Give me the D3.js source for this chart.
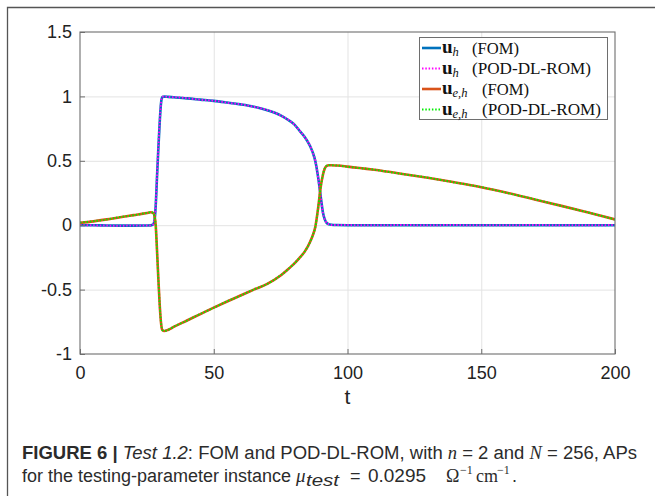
<!DOCTYPE html>
<html>
<head>
<meta charset="utf-8">
<script src="https://cdn.jsdelivr.net/npm/d3@7"></script>
<style>
  body { margin: 0; background: #fff; }
  svg { display: block; }
</style>
</head>
<body>
<svg id="chart" width="655" height="496"></svg>
<script>
// Time samples shared by all series
const timeSteps = [0, 5, 10, 15, 20, 25, 26.5, 27.3, 27.8, 28.3, 28.8,
  29.3, 29.8, 30.3, 30.8, 31.5, 33, 35, 40, 45, 50,
  55, 60, 65, 70, 75, 78, 80, 82, 84, 86,
  87, 88, 89, 90, 90.8, 91.5, 92.2, 93, 94, 96,
  100, 110, 120, 130, 140, 150, 160, 170, 180, 190, 200];

// u_h, full-order model
const uhFOM = [0, 0, -0.002, -0.003, -0.003, -0.002, -0.001, 0.005, 0.03, 0.15, 0.38,
  0.6, 0.8, 0.95, 0.995, 0.998, 0.996, 0.993, 0.985, 0.975, 0.965,
  0.952, 0.938, 0.92, 0.893, 0.853, 0.815, 0.785, 0.735, 0.685, 0.615,
  0.565, 0.495, 0.375, 0.22, 0.1, 0.045, 0.018, 0.007, 0.003, 0.001,
  0, 0, 0, 0, 0, 0, 0, 0, 0, 0, 0];

// u_h, POD-DL-ROM
const uhROM = [0.001, -0.001, -0.003, -0.004, -0.002, -0.003, -0.002, 0.006, 0.032, 0.155, 0.385,
  0.605, 0.802, 0.952, 0.996, 0.999, 0.995, 0.994, 0.986, 0.974, 0.966,
  0.951, 0.939, 0.919, 0.894, 0.852, 0.816, 0.784, 0.736, 0.684, 0.616,
  0.564, 0.496, 0.372, 0.218, 0.098, 0.046, 0.017, 0.008, 0.002, 0.002,
  0.001, -0.001, 0.001, 0, 0.001, -0.001, 0, 0.001, 0, 0, 0.001];

// u_e,h, full-order model
const uehFOM = [0.018, 0.03, 0.045, 0.062, 0.078, 0.094, 0.1, 0.096, 0.075, 0.0, -0.2,
  -0.42, -0.62, -0.76, -0.815, -0.822, -0.812, -0.79, -0.74, -0.69, -0.64,
  -0.592, -0.546, -0.5, -0.455, -0.39, -0.338, -0.3, -0.255, -0.205, -0.13,
  -0.08, -0.01, 0.13, 0.3, 0.39, 0.44, 0.46, 0.466, 0.466, 0.463,
  0.455, 0.43, 0.4, 0.368, 0.333, 0.295, 0.25, 0.2, 0.15, 0.098, 0.045];

// u_e,h, POD-DL-ROM
const uehROM = [0.02, 0.031, 0.044, 0.063, 0.077, 0.095, 0.101, 0.095, 0.074, -0.002, -0.202,
  -0.418, -0.618, -0.758, -0.813, -0.82, -0.813, -0.789, -0.741, -0.689, -0.641,
  -0.591, -0.547, -0.499, -0.456, -0.389, -0.339, -0.299, -0.256, -0.204, -0.131,
  -0.079, -0.012, 0.128, 0.298, 0.391, 0.441, 0.461, 0.467, 0.465, 0.464,
  0.454, 0.431, 0.399, 0.369, 0.332, 0.296, 0.249, 0.201, 0.149, 0.099, 0.044];

const xTicks = [0, 50, 100, 150, 200];
const yTicks = [-1, -0.5, 0, 0.5, 1, 1.5];
const yTickLabels = ["-1", "-0.5", "0", "0.5", "1", "1.5"];

const seriesStyles = [
  { key: "uhFOM", values: uhFOM, color: "#0072BD", width: 2.6, dash: null, sub: "h", tag: "(FOM)" },
  { key: "uhROM", values: uhROM, color: "#ff00ff", width: 2.0, dash: "1.5,1.8", sub: "h", tag: "(POD-DL-ROM)" },
  { key: "uehFOM", values: uehFOM, color: "#D95319", width: 2.6, dash: null, sub: "e,h", tag: "(FOM)" },
  { key: "uehROM", values: uehROM, color: "#00ee00", width: 2.0, dash: "1.5,1.8", sub: "e,h", tag: "(POD-DL-ROM)" }
];

const svg = d3.select("#chart");

// Outer figure frame (top and left edges)
svg.append("path")
  .attr("d", "M7.5,496 V7.5 H655")
  .attr("fill", "none")
  .attr("stroke", "#555")
  .attr("stroke-width", 1.3);

const plot = { left: 80, right: 615, top: 32, bottom: 354 };

const x = d3.scaleLinear().domain([0, 200]).range([plot.left, plot.right]);
const y = d3.scaleLinear().domain([-1, 1.5]).range([plot.bottom, plot.top]);

// Grid lines
const grid = svg.append("g").attr("class", "grid");
grid.append("g")
  .attr("transform", `translate(0,${plot.bottom})`)
  .call(d3.axisBottom(x).tickValues(xTicks.slice(1, -1)).tickSize(-(plot.bottom - plot.top)).tickFormat(""))
  .call(g => g.select(".domain").remove())
  .call(g => g.selectAll("line").attr("stroke", "#e3e3e3").attr("stroke-width", 1));
grid.append("g")
  .attr("transform", `translate(${plot.left},0)`)
  .call(d3.axisLeft(y).tickValues(yTicks.slice(1, -1)).tickSize(-(plot.right - plot.left)).tickFormat(""))
  .call(g => g.select(".domain").remove())
  .call(g => g.selectAll("line").attr("stroke", "#e3e3e3").attr("stroke-width", 1));

// Curves
const line = d3.line()
  .x((d, i) => x(timeSteps[i]))
  .y(d => y(d))
  .curve(d3.curveMonotoneX);

svg.append("clipPath").attr("id", "plotClip")
  .append("rect")
  .attr("x", plot.left).attr("y", plot.top)
  .attr("width", plot.right - plot.left).attr("height", plot.bottom - plot.top);
const curves = svg.append("g").attr("clip-path", "url(#plotClip)");

seriesStyles.forEach(s => {
  curves.append("path")
    .datum(s.values)
    .attr("d", line)
    .attr("fill", "none")
    .attr("stroke", s.color)
    .attr("stroke-width", s.width)
    .attr("stroke-dasharray", s.dash)
    .attr("stroke-linejoin", "round");
});

// Axis box
svg.append("rect")
  .attr("x", plot.left).attr("y", plot.top)
  .attr("width", plot.right - plot.left).attr("height", plot.bottom - plot.top)
  .attr("fill", "none")
  .attr("stroke", "#6e6e6e")
  .attr("stroke-width", 1.1);

// Axes with inward ticks
const tickFont = "'Liberation Sans', Arial, Helvetica, sans-serif";
const xAxis = svg.append("g")
  .attr("transform", `translate(0,${plot.bottom})`)
  .call(d3.axisBottom(x).tickValues(xTicks).tickSizeInner(-5).tickSizeOuter(0).tickPadding(12));
xAxis.select(".domain").remove();
xAxis.selectAll("line").attr("stroke", "#6e6e6e");
xAxis.selectAll("text")
  .attr("font-family", tickFont).attr("font-size", 18).attr("fill", "#222");

const yAxis = svg.append("g")
  .attr("transform", `translate(${plot.left},0)`)
  .call(d3.axisLeft(y).tickValues(yTicks).tickSizeInner(-5).tickSizeOuter(0).tickPadding(8)
    .tickFormat((d, i) => yTickLabels[i]));
yAxis.select(".domain").remove();
yAxis.selectAll("line").attr("stroke", "#6e6e6e");
yAxis.selectAll("text")
  .attr("font-family", tickFont).attr("font-size", 18).attr("fill", "#222");

// x-axis title
svg.append("text")
  .attr("x", (plot.left + plot.right) / 2)
  .attr("y", 404)
  .attr("text-anchor", "middle")
  .attr("font-family", tickFont)
  .attr("font-size", 21)
  .attr("fill", "#222")
  .text("t");

// Legend
const serif = "'Liberation Serif', 'Times New Roman', serif";
const legend = svg.append("g");
legend.append("rect")
  .attr("x", 419.5).attr("y", 37.5)
  .attr("width", 188).attr("height", 82)
  .attr("fill", "#fff")
  .attr("stroke", "#6e6e6e")
  .attr("stroke-width", 1);

seriesStyles.forEach((s, i) => {
  const cy = 48 + i * 20.5;
  const wide = s.sub.length > 1;
  legend.append("line")
    .attr("x1", 422).attr("x2", 441)
    .attr("y1", cy).attr("y2", cy)
    .attr("stroke", s.color)
    .attr("stroke-width", s.width)
    .attr("stroke-dasharray", s.dash);
  legend.append("text")
    .attr("x", 442).attr("y", cy + 5)
    .attr("font-family", serif).attr("font-size", 19).attr("font-weight", "bold")
    .attr("fill", "#111")
    .text("u");
  legend.append("text")
    .attr("x", 452.5).attr("y", cy + 8)
    .attr("font-family", serif).attr("font-size", 12.5).attr("font-style", "italic")
    .attr("fill", "#111")
    .text(s.sub);
  legend.append("text")
    .attr("x", wide ? 482 : 472).attr("y", cy + 5.5)
    .attr("font-family", serif).attr("font-size", 17.5)
    .attr("fill", "#111")
    .attr("textLength", s.tag === "(FOM)" ? 47 : 119)
    .attr("lengthAdjust", "spacingAndGlyphs")
    .text(s.tag);
});

// Caption
const capFont = "'Liberation Sans', Arial, Helvetica, sans-serif";
const capColor = "#2b2b2b";
const cap1 = svg.append("text")
  .attr("x", 22).attr("y", 459)
  .attr("font-family", capFont).attr("font-size", 18).attr("fill", capColor)
  .attr("textLength", 615).attr("lengthAdjust", "spacingAndGlyphs");
cap1.append("tspan").attr("font-weight", "bold").text("FIGURE 6 | ");
cap1.append("tspan").attr("font-style", "italic").text("Test 1.2");
cap1.append("tspan").text(": FOM and POD-DL-ROM, with ");
cap1.append("tspan").attr("font-style", "italic").attr("font-family", serif).text("n");
cap1.append("tspan").text(" = 2 and ");
cap1.append("tspan").attr("font-style", "italic").attr("font-family", serif).text("N");
cap1.append("tspan").text(" = 256, APs");

// Second caption line: text run followed by typeset math pieces
const cap2 = svg.append("g").attr("fill", capColor);
const capPiece = (px, py, str, opts) => {
  const t = cap2.append("text")
    .attr("x", px).attr("y", py)
    .attr("font-family", opts.family || capFont)
    .attr("font-size", opts.size || 18)
    .text(str);
  if (opts.italic) t.attr("font-style", "italic");
  if (opts.len) t.attr("textLength", opts.len).attr("lengthAdjust", "spacingAndGlyphs");
  return t;
};
capPiece(22, 482, "for the testing-parameter instance", { len: 269 });
capPiece(296, 482, "μ", { family: serif, italic: true, size: 19 });
capPiece(306, 486, "test", { italic: true, size: 17, len: 33 });
capPiece(350, 482, "=", { size: 18 });
capPiece(368, 482, "0.0295", { size: 18, len: 58 });
capPiece(446, 482, "Ω", { family: serif, size: 18 });
capPiece(460, 474, "−1", { family: serif, size: 12 });
capPiece(476, 482, "cm", { family: serif, size: 18 });
capPiece(497, 474, "−1", { family: serif, size: 12 });
capPiece(512, 482, ".", { size: 18 });
</script>
</body>
</html>
